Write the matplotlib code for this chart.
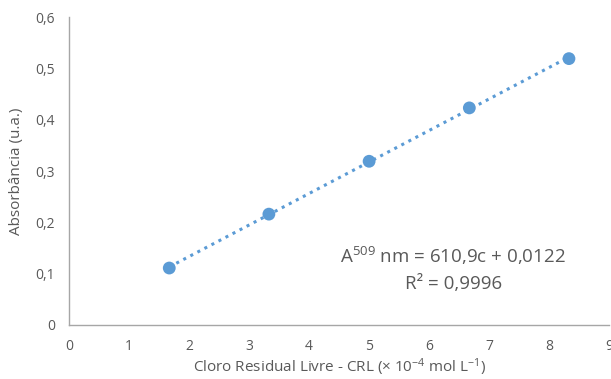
import numpy as np
import matplotlib
matplotlib.use('Agg')
import matplotlib.pyplot as plt
from matplotlib.ticker import FuncFormatter

# concentração (x 10^-4 mol/L) e absorbância
conc = [1.67, 3.33, 5.00, 6.67, 8.33]
absorb = [0.111, 0.216, 0.319, 0.423, 0.519]
eq_text = 'A$^{509}$ nm = 610,9c + 0,0122'
r2_text = 'R² = 0,9996'

plt.rcParams['font.family'] = ['Open Sans', 'DejaVu Sans']
plt.rcParams['mathtext.default'] = 'regular'
gray = '#595959'
blue = '#5B9BD5'

fig = plt.figure(figsize=(6.11, 3.79), dpi=100)
ax = fig.add_axes([0.113, 0.1425, 0.884, 0.8125])

# linha de tendência
coef = np.polyfit(conc, absorb, 1)
xs = np.array([conc[0], conc[-1]])
ax.plot(xs, np.polyval(coef, xs), linestyle=(0, (1, 1.6)), color=blue, lw=2.2, zorder=2)
ax.scatter(conc, absorb, s=85, color=blue, zorder=3, edgecolors='none')

ax.set_xlim(0, 9)
ax.set_ylim(0, 0.6)
ax.set_xticks(range(0, 10))
ax.set_yticks(np.arange(0, 0.61, 0.1))
ax.yaxis.set_major_formatter(FuncFormatter(
    lambda v, p: '0' if abs(v) < 1e-9 else f'{v:.1f}'.replace('.', ',')))
ax.tick_params(length=0, labelsize=10, colors=gray, pad=10)

for s in ['top', 'right']:
    ax.spines[s].set_visible(False)
for s in ['left', 'bottom']:
    ax.spines[s].set_color('#A6A6A6')
    ax.spines[s].set_linewidth(1)

ax.set_xlabel('Cloro Residual Livre - CRL (× 10$^{-4}$ mol L$^{-1}$)', fontsize=11, color=gray, labelpad=2)
ax.set_ylabel('Absorbância (u.a.)', fontsize=11, color=gray, labelpad=8)

ax.text(6.4, 0.134, eq_text, fontsize=13.5, color=gray, ha='center', va='center')
ax.text(6.4, 0.080, r2_text, fontsize=13.5, color=gray, ha='center', va='center')

fig.savefig('out.png', dpi=100)
